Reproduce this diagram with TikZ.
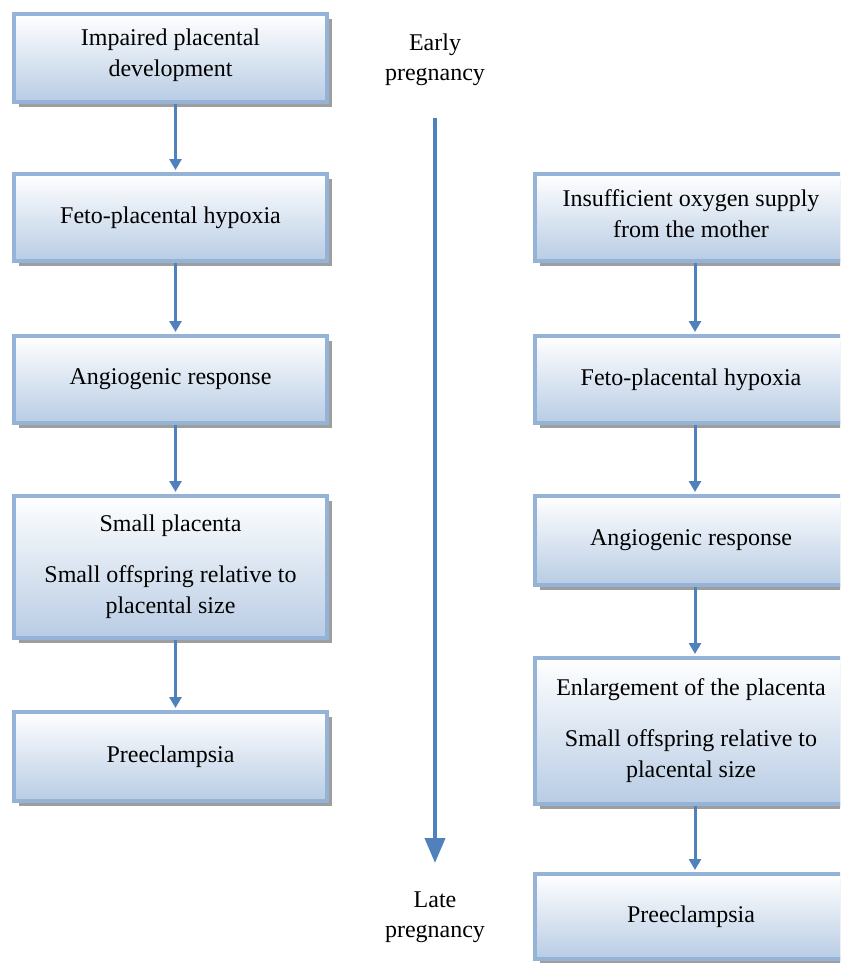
\documentclass[tikz,border=0pt]{standalone}
\usepackage{fontspec}
\setmainfont{Liberation Serif}
\usetikzlibrary{shadows,arrows.meta}
\definecolor{bordblue}{RGB}{149,179,215}
\definecolor{arrblue}{RGB}{79,129,189}
\definecolor{botblue}{RGB}{184,204,228}
\tikzset{
  flowbox/.style={draw=bordblue, line width=4pt, top color=white, bottom color=botblue,
    minimum width=313pt, inner sep=2pt, align=center,
    font=\fontsize{24}{31}\selectfont,
    drop shadow={shadow xshift=5pt, shadow yshift=-5pt, fill=black!38, opacity=1}},
  flowarrow/.style={draw=arrblue, line width=3pt, -{Triangle[width=12pt,length=11pt]}},
  timearrow/.style={draw=arrblue, line width=4pt, -{Triangle[width=20pt,length=25pt]}},
  timelabel/.style={align=center, font=\fontsize{24}{30}\selectfont}
}
\begin{document}
\begin{tikzpicture}[x=1pt,y=-1pt]
\useasboundingbox (0,0) rectangle (840,963);
\clip (0,0) rectangle (840,963);
% left column
\node[flowbox, minimum height=88pt, text depth=11pt] (L1) at (170.5,58) {Impaired placental\\development};
\node[flowbox, minimum height=87pt] (L2) at (170.5,217.5) {Feto-placental hypoxia};
\node[flowbox, minimum height=87pt] (L3) at (170.5,379.5) {Angiogenic response};
\node[flowbox, minimum height=142pt] (L4) at (170.5,567) {Small placenta\\[20pt]Small offspring relative to\\placental size};
\node[flowbox, minimum height=89pt] (L5) at (170.5,756.5) {Preeclampsia};
% right column
\node[flowbox, minimum height=87pt, text depth=8pt] (R1) at (691,217.5) {Insufficient oxygen supply\\from the mother};
\node[flowbox, minimum height=87pt] (R2) at (691,379.5) {Feto-placental hypoxia};
\node[flowbox, minimum height=89pt] (R3) at (691,540.5) {Angiogenic response};
\node[flowbox, minimum height=146pt] (R4) at (691,731) {Enlargement of the placenta\\[20pt]Small offspring relative to\\placental size};
\node[flowbox, minimum height=85pt] (R5) at (691,916.5) {Preeclampsia};
% connectors
\foreach \a/\b in {L1/L2,L2/L3,L3/L4,L4/L5}
  \draw[flowarrow] ([xshift=5pt]\a.south) -- ([xshift=5pt,yshift=2pt]\b.north);
\foreach \a/\b in {R1/R2,R2/R3,R3/R4,R4/R5}
  \draw[flowarrow] ([xshift=4pt]\a.south) -- ([xshift=4pt,yshift=2pt]\b.north);
% timeline
\node[timelabel] (early) at (435,59.5) {Early\\pregnancy};
\node[timelabel] (late) at (435,917.5) {Late\\pregnancy};
\coordinate (tstart) at (435,118);
\coordinate (tend) at (435,863);
\draw[timearrow] (tstart) -- (tend);
\end{tikzpicture}
\end{document}
